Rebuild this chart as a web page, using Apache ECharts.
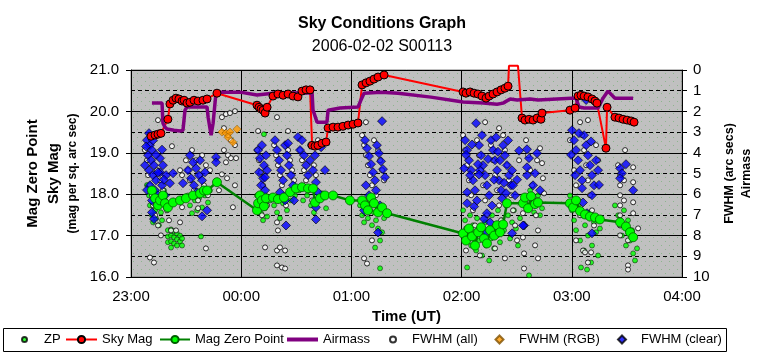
<!DOCTYPE html>
<html><head><meta charset="utf-8">
<script src="https://cdn.jsdelivr.net/npm/echarts@6.0.0/dist/echarts.min.js"></script>
<style>html,body{margin:0;padding:0;background:#fff}#c{width:764px;height:359px}</style>
</head><body><div id="c"></div><script>
// time axis: minutes since 23:00 UT
const timeLabels = ['23:00','00:00','01:00','02:00','03:00','04:00'];

// [minutes, mag]
const skyMagData = [[10.9,19.40],[13.1,19.43],[14.7,19.45],[16.3,19.47],[20.1,19.81],[21.2,20.18],[22.9,20.27],[24.5,20.32],[26.1,20.30],[27.8,20.25],[28.9,20.27],[30.5,20.20],[32.1,20.22],[34.3,20.27],[36.5,20.25],[39.2,20.27],[41.4,20.30],[46.8,20.44],[68.6,20.15],[69.7,20.10],[70.8,20.06],[71.9,20.03],[73.0,19.96],[74.1,20.10],[77.3,20.37],[80.0,20.42],[82.8,20.39],[85.5,20.42],[88.2,20.37],[90.9,20.35],[93.1,20.49],[95.3,20.52],[97.5,20.52],[98.6,19.18],[100.2,19.16],[101.8,19.18],[104.0,19.23],[106.2,19.26],[107.3,19.60],[110.0,19.62],[112.7,19.62],[115.4,19.64],[118.2,19.67],[120.9,19.69],[123.6,19.72],[125.8,20.64],[128.0,20.69],[130.1,20.73],[132.3,20.78],[134.5,20.83],[137.8,20.88],[180.8,20.47],[182.4,20.44],[184.6,20.47],[186.8,20.44],[188.9,20.42],[191.1,20.37],[193.3,20.32],[195.0,20.37],[197.1,20.42],[199.3,20.47],[201.5,20.52],[203.6,20.56],[205.3,20.61],[205.8,21.1],[210.7,21.1],[212.9,19.84],[214.5,19.79],[216.7,19.81],[218.9,19.79],[221.1,19.84],[223.2,19.81],[223.8,19.96],[239.0,20.03],[241.8,20.08],[243.4,20.37],[245.0,20.39],[246.7,20.37],[248.8,20.35],[251.0,20.30],[252.6,20.25],[253.7,20.20],[258.6,19.11],[259.2,20.10],[263.5,19.86],[265.7,19.84],[267.9,19.81],[270.1,19.79],[272.3,19.77],[273.9,19.74]];

// [minutes, mag]
const zeroPointData = [[11.4,18.09],[13.1,17.90],[14.7,17.73],[15.8,17.85],[17.4,17.97],[18.5,17.78],[20.1,17.68],[22.9,17.80],[26.7,17.85],[29.9,17.90],[33.8,17.97],[37.6,18.02],[39.7,18.09],[41.4,18.09],[46.8,18.29],[68.6,17.61],[69.2,17.78],[70.2,17.97],[71.3,17.85],[72.4,17.71],[73.5,17.90],[77.3,17.92],[80.0,17.88],[83.3,17.92],[86.6,18.05],[89.8,18.14],[93.1,18.17],[96.4,18.14],[99.1,18.14],[100.2,17.80],[102.9,17.90],[105.6,17.97],[110.0,17.97],[119.2,17.85],[125.8,17.85],[127.4,17.73],[129.0,17.61],[130.7,17.92],[132.3,17.78],[134.5,17.56],[136.7,17.68],[139.4,17.54],[180.8,17.05],[182.4,16.88],[184.0,17.17],[185.7,16.98],[187.3,16.76],[189.0,17.08],[190.6,17.20],[192.2,16.93],[193.8,16.81],[195.5,17.13],[197.7,17.00],[199.3,17.25],[200.9,17.08],[202.6,17.27],[204.7,17.78],[213.4,17.78],[214.5,17.92],[216.2,17.66],[217.8,17.95],[220.0,17.76],[221.6,17.80],[239.0,17.78],[240.7,17.68],[242.3,17.85],[244.5,17.59],[247.2,17.51],[249.9,17.46],[252.6,17.44],[255.3,17.39],[266.3,17.32],[269.5,17.22],[271.7,17.08],[273.4,16.96]];

// [minutes, airmass]
const airmassData = [[11.4,1.60],[16.9,1.60],[17.4,2.57],[18.5,2.76],[19.6,2.85],[23.4,2.91],[26.7,2.95],[28.3,2.91],[29.4,1.94],[30.5,1.79],[41.4,1.79],[42.0,2.28],[43.6,3.15],[44.7,2.57],[46.3,1.07],[59.4,1.07],[68.6,1.21],[77.3,1.12],[95.9,1.10],[98.6,1.12],[99.1,1.94],[101.3,2.52],[106.7,2.52],[107.3,1.94],[113.8,1.84],[123.6,1.79],[125.2,1.45],[126.9,1.12],[136.1,1.07],[145.4,1.12],[163.3,1.31],[180.8,1.55],[191.7,1.60],[199.3,1.65],[202.6,1.60],[206.4,1.40],[210.2,1.45],[217.3,1.40],[221.6,1.45],[239.6,1.36],[242.3,1.36],[243.9,1.79],[246.7,1.84],[254.3,1.84],[257.0,1.36],[259.7,1.02],[263.5,1.36],[273.4,1.36]];

// [minutes, mag]
const zpData = [[8.7,18.22],[9.8,17.97],[10.3,17.73],[11.4,17.49],[12.0,17.32],[13.1,17.61],[13.6,17.42],[14.7,17.85],[15.2,17.25],[16.3,17.56],[16.9,17.37],[18.0,18.09],[19.1,17.66],[20.1,17.13],[20.1,16.98],[20.1,16.84],[21.8,17.15],[21.8,17.00],[21.8,16.86],[21.8,16.71],[23.4,17.10],[23.4,16.96],[23.4,16.81],[25.0,17.05],[25.0,16.91],[25.0,16.76],[26.7,17.00],[26.7,16.86],[27.8,16.93],[27.8,16.76],[38.1,16.98],[31.0,17.97],[32.1,17.73],[33.2,17.54],[34.8,17.85],[36.0,17.61],[37.0,17.90],[38.7,17.68],[40.3,17.97],[41.9,17.80],[43.0,18.09],[72.4,19.45],[68.6,17.97],[69.7,17.73],[70.8,17.54],[71.9,17.37],[73.0,17.66],[74.1,17.46],[75.7,17.85],[77.9,17.73],[79.5,17.56],[81.1,17.42],[82.8,17.78],[84.9,17.61],[87.1,17.85],[89.3,17.97],[91.5,18.09],[93.7,17.85],[95.9,17.97],[98.0,17.73],[99.6,17.56],[101.8,17.85],[104.0,18.02],[106.2,17.66],[124.7,17.73],[125.8,17.49],[126.9,17.32],[128.0,17.61],[129.0,17.42],[130.1,17.85],[131.2,17.25],[132.3,17.56],[133.4,17.37],[134.5,17.17],[135.6,16.88],[136.7,17.08],[137.8,17.42],[135.6,16.21],[132.9,16.71],[180.8,17.61],[181.9,17.37],[182.4,17.17],[183.0,16.23],[183.5,16.93],[184.6,17.49],[185.2,16.76],[186.2,17.25],[186.8,17.08],[187.9,16.64],[188.4,17.42],[189.5,16.88],[190.0,17.17],[191.1,16.52],[191.7,17.00],[192.8,17.32],[193.3,16.76],[194.4,17.13],[195.0,16.40],[196.0,16.93],[196.6,17.49],[197.7,16.69],[198.2,17.25],[199.3,17.00],[199.8,17.61],[200.9,16.84],[202.0,17.37],[203.1,17.13],[204.2,17.73],[205.3,17.49],[206.4,16.93],[207.5,17.32],[208.5,17.61],[209.6,17.17],[210.7,16.76],[211.8,17.42],[215.1,17.90],[216.2,17.66],[216.7,16.04],[217.3,18.09],[218.4,17.85],[219.5,17.56],[220.5,17.73],[221.6,17.97],[222.7,17.49],[223.8,17.66],[239.0,17.97],[240.1,17.61],[241.2,17.37],[242.3,17.13],[243.4,17.73],[244.5,16.88],[245.0,16.23],[245.6,17.49],[246.7,16.64],[247.2,17.25],[248.3,16.18],[248.8,17.00],[249.9,17.56],[250.5,16.35],[251.0,16.76],[252.1,17.32],[253.2,17.08],[254.3,16.52],[255.3,17.17],[263.5,17.73],[265.2,17.49],[266.3,17.25],[267.3,17.00],[268.4,17.61],[269.5,16.76],[270.6,17.37],[271.7,16.88],[272.8,17.13],[273.4,16.57],[274.4,16.40],[275.5,16.69]];

// [minutes, FWHM arc secs]
const fwhmAllData = [[7.6,3.87],[8.7,4.36],[9.3,5.08],[10.3,5.57],[10.3,9.06],[11.4,6.05],[12.0,6.54],[12.5,9.30],[13.1,7.02],[14.2,4.84],[14.7,7.51],[15.8,5.33],[16.3,7.99],[17.4,5.81],[18.5,6.30],[19.6,6.78],[20.7,7.26],[21.8,7.75],[22.3,3.68],[24.5,7.75],[26.7,7.36],[14.7,2.42],[26.7,4.84],[27.8,5.08],[29.9,4.36],[31.0,4.84],[32.1,5.33],[33.2,3.87],[34.3,5.81],[35.4,4.36],[36.5,6.30],[37.6,5.08],[38.7,4.12],[39.7,5.57],[40.8,4.60],[41.9,6.05],[43.0,4.84],[40.8,8.62],[27.8,6.63],[36.5,6.68],[49.5,2.28],[51.7,2.13],[53.9,2.08],[56.6,1.99],[50.6,2.81],[52.8,3.15],[54.4,3.39],[56.6,3.63],[50.6,3.87],[52.8,4.12],[54.4,4.26],[57.2,4.26],[51.7,4.46],[49.5,5.04],[52.3,5.23],[55.5,6.63],[47.9,5.81],[56.6,5.57],[69.2,2.95],[68.6,3.87],[69.7,4.36],[70.8,4.94],[71.9,5.57],[73.0,6.05],[74.1,6.54],[71.3,7.02],[73.0,8.57],[79.5,2.28],[85.5,2.95],[77.9,3.63],[79.0,4.12],[80.0,4.60],[81.1,5.08],[82.2,5.57],[83.3,6.05],[84.4,6.54],[85.5,3.87],[86.6,4.36],[87.7,4.84],[88.8,5.33],[79.5,7.36],[80.0,7.75],[79.5,8.72],[81.1,8.57],[83.9,8.72],[79.5,9.44],[82.2,9.54],[83.9,9.59],[92.0,3.87],[93.1,4.36],[94.2,4.84],[95.3,5.33],[96.4,5.81],[97.5,3.63],[98.6,6.30],[99.6,4.60],[100.7,5.08],[101.8,3.39],[125.8,3.15],[126.9,3.63],[127.9,2.52],[127.9,4.12],[129.0,4.60],[130.1,5.08],[131.2,5.57],[132.3,3.39],[133.4,6.05],[134.5,3.87],[135.6,4.36],[136.7,4.84],[137.8,5.33],[127.4,6.30],[130.1,6.78],[134.5,6.54],[126.9,9.10],[128.5,9.35],[131.2,8.23],[180.8,3.15],[181.9,3.87],[183.0,4.60],[184.0,5.33],[185.2,6.05],[186.2,6.78],[187.3,7.51],[188.4,3.39],[189.5,4.12],[190.6,4.84],[191.7,5.57],[192.8,6.30],[193.8,7.02],[195.0,7.75],[196.0,3.63],[197.1,4.36],[198.2,5.08],[199.3,5.81],[200.4,6.54],[201.5,7.26],[202.6,3.15],[203.6,3.87],[204.7,4.60],[205.8,5.33],[206.9,6.05],[208.0,6.78],[209.1,7.51],[210.2,8.23],[211.3,4.36],[182.4,8.72],[190.0,8.96],[198.2,8.62],[203.6,9.10],[192.8,2.52],[200.4,2.81],[215.1,3.39],[216.2,4.12],[217.3,4.84],[218.4,5.57],[219.5,6.30],[220.5,7.02],[221.6,7.75],[222.7,3.78],[223.8,4.50],[224.3,5.23],[224.9,5.96],[220.0,8.47],[221.6,9.10],[213.4,6.92],[213.4,8.09],[214.0,8.86],[214.0,9.59],[221.1,4.36],[239.0,3.39],[240.1,4.12],[241.2,4.84],[242.3,5.57],[243.4,6.30],[244.5,2.52],[244.5,7.02],[245.6,3.15],[246.7,3.87],[247.8,4.60],[248.8,2.42],[248.8,5.33],[249.9,6.05],[251.0,6.78],[252.1,7.51],[253.2,3.63],[254.3,4.36],[246.1,8.72],[247.2,8.81],[250.5,8.81],[242.3,8.23],[248.8,9.30],[269.0,3.87],[273.4,4.70],[265.2,4.60],[266.3,5.08],[266.3,5.57],[266.3,6.05],[266.3,6.54],[266.3,7.02],[266.3,7.51],[266.3,7.99],[268.4,5.33],[268.4,6.30],[273.4,5.42],[273.4,6.39],[273.4,6.92],[270.6,8.23],[270.6,9.44],[270.6,9.64],[276.1,7.65]];

// [minutes, FWHM arc secs]
const fwhmRgbData = [[49.5,3.00],[51.7,3.05],[53.9,3.00],[57.7,2.86],[55.5,3.49],[52.8,3.25]];

// [minutes, FWHM arc secs]
const fwhmClearData = [[9.8,3.05],[8.7,3.39],[10.3,3.63],[11.4,3.87],[9.3,4.12],[10.9,4.36],[12.5,4.60],[9.8,4.84],[12.0,5.08],[13.6,5.33],[10.3,5.57],[13.1,5.81],[14.7,6.05],[11.4,6.30],[14.2,6.54],[15.8,4.94],[17.4,4.60],[19.1,5.08],[16.9,5.57],[15.8,4.26],[11.4,6.88],[18.5,6.05],[21.2,5.47],[8.2,3.70],[12.0,3.40],[13.6,4.10],[16.9,3.85],[7.6,4.60],[14.7,4.95],[17.9,5.30],[8.7,5.80],[16.3,6.35],[12.5,7.20],[32.1,4.12],[33.8,4.46],[35.4,4.75],[37.0,5.08],[38.7,5.33],[31.0,4.84],[32.7,5.23],[34.3,5.57],[36.0,5.91],[37.6,4.36],[39.2,5.81],[40.3,4.94],[41.4,6.78],[38.7,7.07],[46.3,4.21],[46.3,4.46],[28.3,5.47],[22.9,4.99],[69.2,3.87],[70.2,4.26],[71.3,3.63],[72.4,4.60],[73.5,4.12],[69.7,4.94],[71.9,5.23],[74.1,4.84],[70.8,5.57],[73.0,5.18],[73.0,5.81],[78.4,3.39],[79.5,3.87],[80.6,4.36],[81.7,4.84],[82.8,5.33],[83.9,3.63],[84.9,4.12],[86.0,4.60],[87.1,5.08],[88.2,5.57],[85.5,3.54],[81.1,5.91],[83.9,6.30],[88.8,6.30],[84.4,7.51],[90.9,3.24],[93.1,3.39],[92.0,3.87],[94.2,4.12],[95.3,4.60],[96.4,5.08],[97.5,4.36],[99.1,4.84],[100.7,5.42],[101.8,5.91],[100.2,4.12],[103.5,3.73],[105.6,4.84],[100.7,6.63],[100.7,7.22],[136.7,2.47],[127.4,3.39],[128.5,3.78],[129.6,4.16],[130.7,4.55],[131.8,4.94],[132.9,5.33],[133.9,3.63],[135.0,4.02],[136.1,4.41],[137.2,4.79],[138.3,5.18],[127.9,5.57],[129.6,6.05],[133.4,5.81],[126.9,6.78],[134.5,7.85],[135.6,6.54],[187.9,2.57],[181.9,3.39],[183.0,3.87],[184.0,4.36],[185.2,4.84],[186.2,5.33],[187.3,5.81],[188.4,6.30],[189.5,3.63],[190.6,4.12],[191.7,4.60],[192.8,5.08],[193.8,5.57],[195.0,6.05],[196.0,3.39],[197.1,3.87],[198.2,4.36],[199.3,4.84],[200.4,5.33],[201.5,5.81],[202.6,3.63],[203.6,4.12],[204.7,4.60],[205.8,5.08],[206.9,5.57],[183.0,5.91],[183.0,6.44],[193.8,6.92],[193.8,7.85],[195.5,7.36],[208.0,5.57],[207.5,7.89],[214.0,7.51],[215.6,5.08],[184.6,5.08],[190.0,4.84],[200.9,4.36],[209.1,6.05],[182.4,4.10],[185.7,3.60],[188.9,4.55],[191.1,3.15],[194.4,4.30],[197.7,5.30],[199.8,3.95],[203.1,5.45],[205.3,3.40],[207.5,4.85],[210.2,5.30],[186.8,6.60],[196.6,6.55],[202.0,6.20],[211.3,3.90],[181.4,4.75],[189.5,5.05],[198.8,3.25],[204.2,5.95],[192.2,7.20],[215.6,3.83],[216.7,4.26],[221.1,4.02],[215.6,4.70],[220.0,4.99],[218.9,5.57],[220.0,6.44],[213.4,7.51],[222.7,5.81],[247.8,1.45],[240.1,2.91],[241.2,3.39],[242.3,3.87],[243.4,4.36],[244.5,4.84],[245.6,5.33],[246.7,3.15],[247.8,3.63],[248.8,4.12],[249.9,4.60],[251.0,5.08],[252.1,5.57],[253.2,4.36],[245.6,5.71],[251.0,6.05],[248.3,6.92],[251.0,7.89],[241.8,5.08],[254.3,4.84],[243.9,3.05],[250.5,3.45],[254.8,5.55],[239.6,4.10],[246.1,6.40],[266.3,4.75],[269.5,4.55],[267.3,4.99],[273.4,5.81],[271.7,7.80],[266.3,5.23]];

const FONT = '"Liberation Sans", Arial, sans-serif';

// plot-area texture: grey with sparse green dots
const pat = document.createElement('canvas');
pat.width = 8; pat.height = 8;
const pctx = pat.getContext('2d');
pctx.fillStyle = '#C0C0C0'; pctx.fillRect(0, 0, 8, 8);
pctx.fillStyle = '#8DB58D';
pctx.fillRect(1, 1, 1, 1); pctx.fillRect(5, 5, 1, 1);

const chart = echarts.init(document.getElementById('c'), null, {renderer: 'canvas'});

function lg(name, left, w, h, padLeft, icon) {
  const item = icon ? {name: name, icon: icon} : name;
  return {data: [item], left: left, top: 333, padding: 0, selectedMode: false,
    itemWidth: w, itemHeight: h,
    textStyle: {fontFamily: FONT, fontSize: 13, color: '#000', padding: [0, 0, 0, padLeft || 0]}};
}

chart.setOption({
  animation: false,
  backgroundColor: '#fff',
  title: [
    {text: 'Sky Conditions Graph', left: 'center', top: 11,
     textStyle: {fontFamily: FONT, fontSize: 16, fontWeight: 'bold', color: '#000'}},
    {text: '2006-02-02 S00113', left: 'center', top: 34,
     textStyle: {fontFamily: FONT, fontSize: 16, fontWeight: 'normal', color: '#000'}}
  ],
  grid: {left: 131, right: 82, top: 70, bottom: 82, show: true,
    backgroundColor: {image: pat, repeat: 'repeat'}, borderColor: '#808080', borderWidth: 1},
  legend: [
    lg('ZP', 21, 5, 5, 12),
    lg('Sky Mag', 65, 31, 9, 0),
    lg('Mag Zero Point', 159, 30, 9, 0),
    lg('Airmass', 287, 31, 4, 0, 'rect'),
    lg('FWHM (all)', 389, 6, 6, 11),
    lg('FWHM (RGB)', 494.5, 8, 8, 10.5),
    lg('FWHM (clear)', 617, 8, 8, 10)
  ],
  graphic: [{type: 'rect', shape: {x: 3.5, y: 328.5, width: 723, height: 23},
    style: {fill: 'none', stroke: '#000', lineWidth: 1}, silent: true}],
  xAxis: {
    type: 'value', min: 0, max: 300, interval: 60,
    name: 'Time (UT)', nameLocation: 'middle', nameGap: 31,
    nameTextStyle: {fontFamily: FONT, fontSize: 15, fontWeight: 'bold', color: '#000'},
    axisLine: {show: true, lineStyle: {color: '#000', width: 1}},
    axisTick: {show: true, length: 5, lineStyle: {color: '#000'}},
    axisLabel: {fontFamily: FONT, fontSize: 15, color: '#000', margin: 12,
      formatter: v => timeLabels[Math.round(v / 60)]},
    splitLine: {show: true, lineStyle: {color: '#000', width: 1}}
  },
  yAxis: [
    {
      type: 'value', min: 16, max: 21, interval: 1, position: 'left',
      name: '{a|Mag Zero Point}\n{a|Sky Mag}\n{b|(mag per sq. arc sec)}',
      nameLocation: 'middle', nameRotate: 90, nameGap: 49,
      nameTextStyle: {fontFamily: FONT, color: '#000',
        rich: {a: {fontFamily: FONT, fontSize: 15, fontWeight: 'bold', lineHeight: 21, color: '#000'},
               b: {fontFamily: FONT, fontSize: 12, fontWeight: 'bold', lineHeight: 18, color: '#000'}}},
      axisLine: {show: true, lineStyle: {color: '#000', width: 1}},
      axisTick: {show: true, length: 5, lineStyle: {color: '#000'}},
      axisLabel: {fontFamily: FONT, fontSize: 15, color: '#000', margin: 12,
        formatter: v => v.toFixed(1)},
      splitLine: {show: true, lineStyle: {color: '#000', width: 1}}
    },
    {
      type: 'value', min: 0, max: 10, interval: 1, position: 'right', inverse: true,
      name: 'FWHM (arc secs)\nAirmass',
      nameLocation: 'middle', nameRotate: 90, nameGap: 31,
      nameTextStyle: {fontFamily: FONT, fontSize: 12.5, fontWeight: 'bold', color: '#000', lineHeight: 17},
      axisLine: {show: true, lineStyle: {color: '#000', width: 1}},
      axisTick: {show: true, length: 5, lineStyle: {color: '#000'}},
      axisLabel: {fontFamily: FONT, fontSize: 15, color: '#000', margin: 11},
      splitLine: {show: true, lineStyle: {color: '#000', width: 1, type: [4, 3]}}
    }
  ],
  series: [
    {name: 'ZP', type: 'scatter', yAxisIndex: 0, data: zpData, symbol: 'circle', symbolSize: 5,
     itemStyle: {color: '#00FF00', borderColor: '#000', borderWidth: 0.6}},
    {name: 'Sky Mag', type: 'line', yAxisIndex: 0, clip: false,
     data: skyMagData.map(p => p[1] > 21 ? {value: p, symbol: 'none'} : p),
     symbol: 'circle', symbolSize: 8, showAllSymbol: true,
     lineStyle: {color: '#FF0000', width: 2},
     itemStyle: {color: '#FF0000', borderColor: '#000', borderWidth: 1}},
    {name: 'Mag Zero Point', type: 'line', yAxisIndex: 0, data: zeroPointData,
     symbol: 'circle', symbolSize: 9, showAllSymbol: true,
     lineStyle: {color: '#008000', width: 2.5},
     itemStyle: {color: '#00FF00', borderColor: '#006000', borderWidth: 0.8}},
    {name: 'Airmass', type: 'line', yAxisIndex: 1, data: airmassData,
     symbol: 'none', lineStyle: {color: '#800080', width: 3.5},
     itemStyle: {color: '#800080'}},
    {name: 'FWHM (all)', type: 'scatter', yAxisIndex: 1, data: fwhmAllData,
     symbol: 'circle', symbolSize: 5,
     itemStyle: {color: '#FFFFFF', borderColor: '#000', borderWidth: 1}},
    {name: 'FWHM (RGB)', type: 'scatter', yAxisIndex: 1, data: fwhmRgbData,
     symbol: 'diamond', symbolSize: 8,
     itemStyle: {color: '#FF9900', borderColor: '#805000', borderWidth: 0.6}},
    {name: 'FWHM (clear)', type: 'scatter', yAxisIndex: 1, data: fwhmClearData,
     symbol: 'diamond', symbolSize: 9,
     itemStyle: {color: '#0000FF', borderColor: '#000', borderWidth: 0.8}}
  ]
});
</script></body></html>
